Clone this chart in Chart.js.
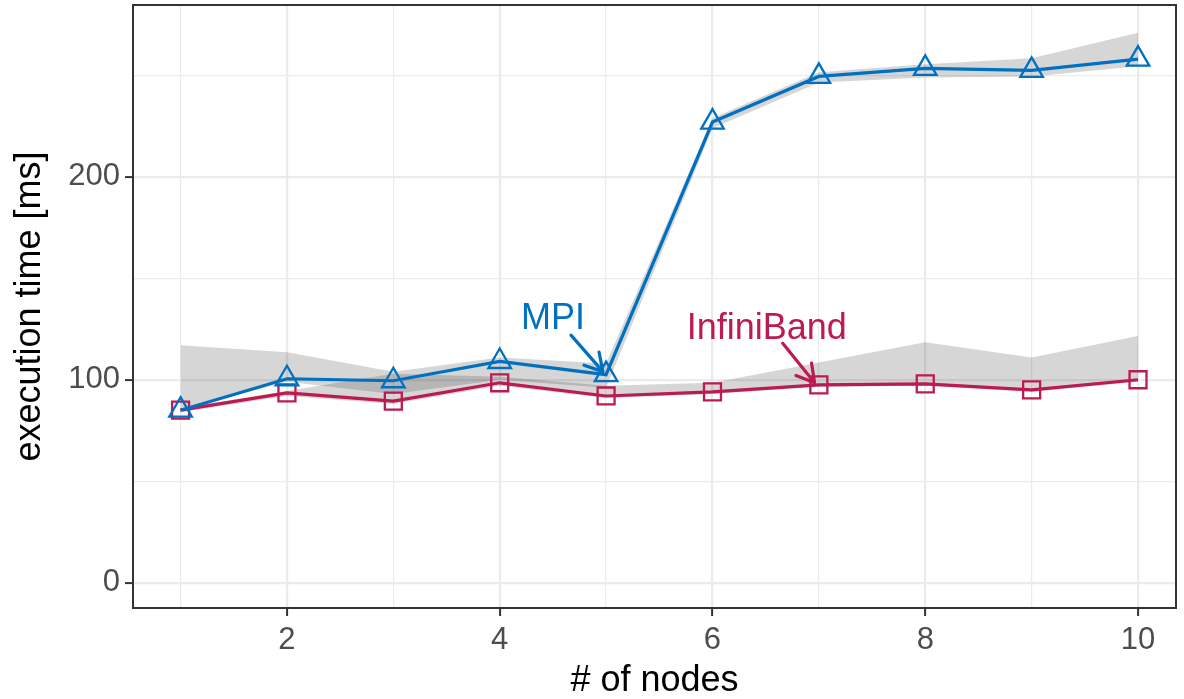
<!DOCTYPE html>
<html>
<head>
<meta charset="utf-8">
<script src="https://cdn.jsdelivr.net/npm/chart.js@4.4.1/dist/chart.umd.min.js"></script>
<style>
  html, body { margin: 0; padding: 0; background: #fff; }
  #chart { display: block; }
</style>
</head>
<body>
<canvas id="chart" width="1184" height="699"></canvas>
<script>
// values
const nodes = [1, 2, 3, 4, 5, 6, 7, 8, 9, 10];
const mpiTime = [85, 100.5, 99.5, 109, 102.5, 227, 249.5, 253.5, 252.5, 258];
const ibTime = [85, 93.5, 89.5, 98.5, 92, 94, 97.5, 98, 95, 100];
const mpiUpper = [117, 113.5, 104, 111, 108, 229, 251.5, 255.5, 258.5, 271];
const mpiLower = [85, 99, 93, 100, 96, 224, 246.5, 249, 249.5, 254.5];
const ibUpper = [86, 94.5, 103, 101.5, 97, 98.5, 108.5, 118.5, 111, 121.5];
const ibLower = [84, 92, 88, 97, 91, 93, 96.5, 97, 94, 99];

const xGrid = [1, 2, 3, 4, 5, 6, 7, 8, 9, 10];
const xTickLabels = [2, 4, 6, 8, 10];
const yGrid = [0, 50, 100, 150, 200, 250];
const yTickLabels = [0, 100, 200];

// direct labels with arrows (data units)
const labelText = ['MPI', 'InfiniBand'];
const labelPos = [[4.5, 125], [6.51, 120]];
const arrowFrom = [[4.67, 122], [6.66, 118]];
const arrowTo = [[4.97, 104], [6.96, 98.5]];

const BLUE = '#0070c0';
const RED = '#bc1a52';
const FONT = "'Liberation Sans', Arial, sans-serif";
const RIBBON = 'rgba(51, 51, 51, 0.2)';

const pts = (ys) => nodes.map((x, i) => ({ x: x, y: ys[i] }));
const colors = [BLUE, RED];

const ribbon = (ys, fill) => ({
    data: pts(ys),
    borderWidth: 0,
    pointRadius: 0,
    backgroundColor: RIBBON,
    fill: fill
});

const panelBorder = {
    id: 'panelBorder',
    afterDraw(chart) {
        const { ctx, chartArea: a } = chart;
        ctx.save();
        ctx.strokeStyle = '#333';
        ctx.lineWidth = 2;
        ctx.strokeRect(a.left, a.top, a.right - a.left, a.bottom - a.top);
        ctx.restore();
    }
};

const directLabels = {
    id: 'directLabels',
    afterDatasetsDraw(chart) {
        const { ctx, scales: { x, y } } = chart;
        ctx.save();
        labelText.forEach((txt, i) => {
            ctx.fillStyle = colors[i];
            ctx.strokeStyle = colors[i];
            ctx.font = '36px ' + FONT;
            ctx.textAlign = 'center';
            ctx.textBaseline = 'alphabetic';
            ctx.fillText(txt, x.getPixelForValue(labelPos[i][0]), y.getPixelForValue(labelPos[i][1]));

            const x0 = x.getPixelForValue(arrowFrom[i][0]), y0 = y.getPixelForValue(arrowFrom[i][1]);
            const x1 = x.getPixelForValue(arrowTo[i][0]), y1 = y.getPixelForValue(arrowTo[i][1]);
            const ang = Math.atan2(y1 - y0, x1 - x0);
            const len = 20;
            ctx.lineWidth = 3.2;
            ctx.lineCap = 'round';
            ctx.lineJoin = 'round';
            ctx.beginPath();
            ctx.moveTo(x0, y0);
            ctx.lineTo(x1, y1);
            ctx.moveTo(x1 - len * Math.cos(ang - Math.PI / 6), y1 - len * Math.sin(ang - Math.PI / 6));
            ctx.lineTo(x1, y1);
            ctx.lineTo(x1 - len * Math.cos(ang + Math.PI / 6), y1 - len * Math.sin(ang + Math.PI / 6));
            ctx.stroke();
        });
        ctx.restore();
    }
};

new Chart(document.getElementById('chart'), {
    type: 'line',
    data: {
        datasets: [
            {
                label: 'MPI',
                data: pts(mpiTime),
                borderColor: BLUE,
                borderWidth: 3.2,
                pointStyle: 'triangle',
                pointRadius: 13,
                pointBorderWidth: 2.3,
                pointBorderColor: BLUE,
                pointBackgroundColor: 'rgba(0,0,0,0)',
                fill: false
            },
            {
                label: 'InfiniBand',
                data: pts(ibTime),
                borderColor: RED,
                borderWidth: 3.2,
                pointStyle: 'rect',
                pointRadius: 12,
                pointBorderWidth: 2.3,
                pointBorderColor: RED,
                pointBackgroundColor: 'rgba(0,0,0,0)',
                fill: false
            },
            ribbon(mpiUpper, '+1'),
            ribbon(mpiLower, false),
            ribbon(ibUpper, '+1'),
            ribbon(ibLower, false)
        ]
    },
    options: {
        responsive: false,
        animation: false,
        layout: { autoPadding: false, padding: { top: 5, right: 8, left: 0, bottom: 0 } },
        plugins: {
            legend: { display: false },
            tooltip: { enabled: false }
        },
        scales: {
            x: {
                type: 'linear',
                min: 0.553,
                max: 10.357,
                afterBuildTicks: (s) => { s.ticks = xGrid.map(v => ({ value: v })); },
                afterFit: (s) => { s.height = 91; s.paddingLeft = 0; s.paddingRight = 0; },
                border: { display: false },
                grid: {
                    color: '#ebebeb',
                    lineWidth: (c) => (c.tick && xTickLabels.includes(c.tick.value)) ? 2.2 : 1.2,
                    drawTicks: true,
                    tickLength: 8,
                    tickWidth: 2,
                    tickColor: (c) => (c.tick && xTickLabels.includes(c.tick.value)) ? '#333' : 'rgba(0,0,0,0)'
                },
                ticks: {
                    autoSkip: false,
                    maxRotation: 0,
                    padding: 6,
                    color: '#4d4d4d',
                    font: { family: FONT, size: 31 },
                    callback: (v) => xTickLabels.includes(v) ? String(v) : ''
                },
                title: {
                    display: true,
                    text: '# of nodes',
                    color: '#000',
                    font: { family: FONT, size: 36, lineHeight: 1 },
                    padding: { top: 0, bottom: 0 }
                }
            },
            y: {
                type: 'linear',
                min: -12.5,
                max: 284.7,
                afterBuildTicks: (s) => { s.ticks = yGrid.map(v => ({ value: v })); },
                afterFit: (s) => { s.width = 133; s.paddingTop = 0; s.paddingBottom = 0; },
                border: { display: false },
                grid: {
                    color: '#ebebeb',
                    lineWidth: (c) => (c.tick && yTickLabels.includes(c.tick.value)) ? 2.2 : 1.2,
                    drawTicks: true,
                    tickLength: 8,
                    tickWidth: 2,
                    tickColor: (c) => (c.tick && yTickLabels.includes(c.tick.value)) ? '#333' : 'rgba(0,0,0,0)'
                },
                ticks: {
                    autoSkip: false,
                    padding: 5,
                    color: '#4d4d4d',
                    font: { family: FONT, size: 31 },
                    callback: (v) => yTickLabels.includes(v) ? String(v) : ''
                },
                title: {
                    display: true,
                    text: 'execution time [ms]',
                    color: '#000',
                    font: { family: FONT, size: 36, lineHeight: 1 },
                    padding: { top: 12, bottom: 0 }
                }
            }
        }
    },
    plugins: [panelBorder, directLabels]
});
</script>
</body>
</html>
